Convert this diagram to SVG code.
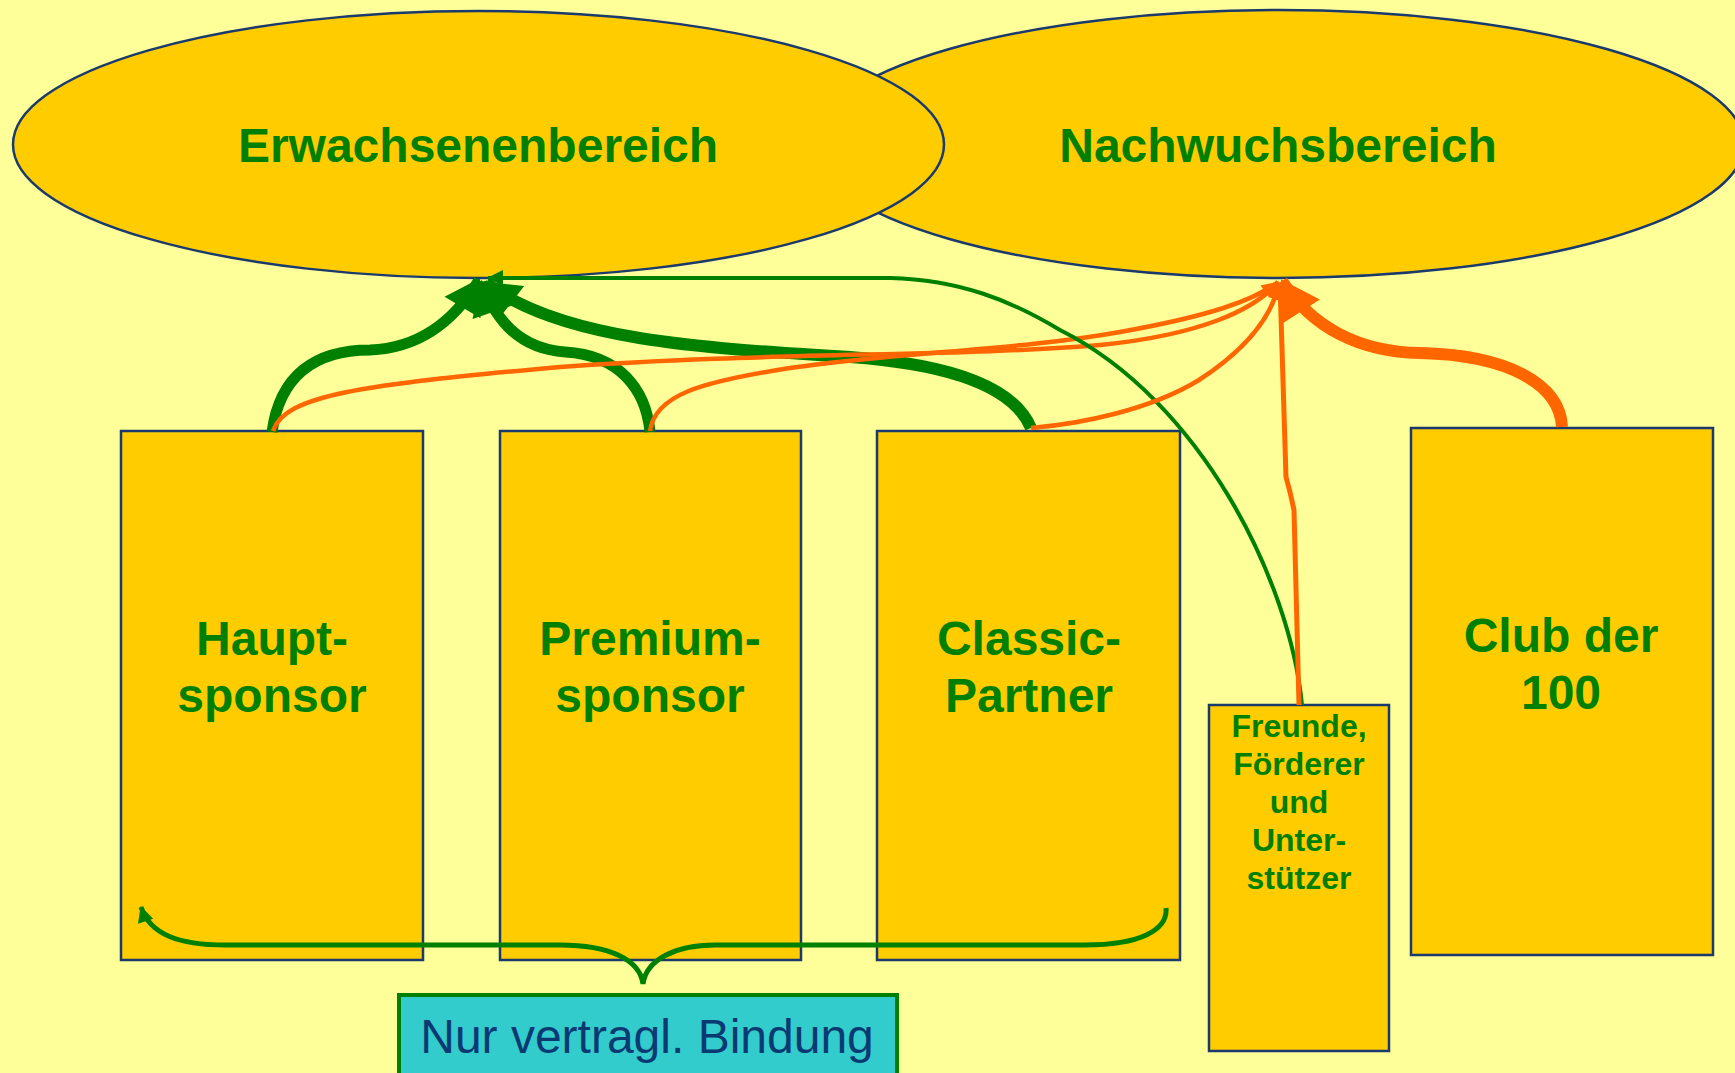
<svg xmlns="http://www.w3.org/2000/svg" width="1735" height="1073" viewBox="0 0 1735 1073">
<defs>
<style>
.bg{fill:#FFFF99}
.shape{fill:#FFCC00;stroke:#1a3a6e;stroke-width:2.5}
.lbl{font-family:"Liberation Sans",Arial,sans-serif;font-weight:bold;fill:#008000;text-anchor:middle}
.big{font-size:48px}
.small{font-size:32px}
.g{fill:none;stroke:#008000;stroke-linecap:butt}
.o{fill:none;stroke:#FF6600;stroke-linecap:butt}
</style>
<marker id="gBig" markerUnits="userSpaceOnUse" viewBox="-36 -24 40 48" refX="0" refY="0" markerWidth="40" markerHeight="48" orient="auto" overflow="visible">
<path d="M2,0 L-32,-21 L-32,21 Z" fill="#008000"/>
</marker>
<marker id="gSmall" markerUnits="userSpaceOnUse" viewBox="-18 -10 20 20" refX="0" refY="0" markerWidth="20" markerHeight="20" orient="auto-start-reverse" overflow="visible">
<path d="M1,0 L-15,-8 L-15,8 Z" fill="#008000"/>
</marker>
<marker id="oBig" markerUnits="userSpaceOnUse" viewBox="-38 -24 40 48" refX="0" refY="0" markerWidth="40" markerHeight="48" orient="auto" overflow="visible">
<path d="M2,0 L-36,-22 L-36,22 Z" fill="#FF6600"/>
</marker>
<marker id="oSmall" markerUnits="userSpaceOnUse" viewBox="-18 -10 20 20" refX="0" refY="0" markerWidth="20" markerHeight="20" orient="auto" overflow="visible">
<path d="M1,0 L-16,-8 L-16,8 Z" fill="#FF6600"/>
</marker>
</defs>
<rect class="bg" x="0" y="0" width="1735" height="1073"/>

<g id="nachwuchsbereich">
<ellipse class="shape" cx="1278" cy="144" rx="466" ry="134"/>
<text class="lbl big" x="1278" y="162">Nachwuchsbereich</text>
</g>
<g id="erwachsenenbereich">
<ellipse class="shape" cx="478.5" cy="144.5" rx="465.5" ry="133.5"/>
<text class="lbl big" x="478" y="162">Erwachsenenbereich</text>
</g>

<g id="hauptsponsor">
<rect class="shape" x="121" y="431" width="302" height="529"/>
<text class="lbl big" x="272" y="655">Haupt-</text>
<text class="lbl big" x="272" y="712">sponsor</text>
</g>
<g id="premiumsponsor">
<rect class="shape" x="500" y="431" width="301" height="529"/>
<text class="lbl big" x="650" y="655">Premium-</text>
<text class="lbl big" x="650" y="712">sponsor</text>
</g>
<g id="classicpartner">
<rect class="shape" x="877" y="431" width="303" height="529"/>
<text class="lbl big" x="1029" y="655">Classic-</text>
<text class="lbl big" x="1029" y="712">Partner</text>
</g>
<g id="freunde">
<rect class="shape" x="1209" y="705" width="180" height="346"/>
<text class="lbl small" x="1299" y="737">Freunde,</text>
<text class="lbl small" x="1299" y="775">Förderer</text>
<text class="lbl small" x="1299" y="813">und</text>
<text class="lbl small" x="1299" y="851">Unter-</text>
<text class="lbl small" x="1299" y="889">stützer</text>
</g>
<g id="clubder100">
<rect class="shape" x="1411" y="428" width="302" height="527"/>
<text class="lbl big" x="1561" y="652">Club der</text>
<text class="lbl big" x="1561" y="709">100</text>
</g>
<g id="nurvertragl">
<rect x="399" y="995" width="498" height="100" fill="#33CCCC" stroke="#008000" stroke-width="4"/>
<text x="647" y="1053" font-family="Liberation Sans, Arial, sans-serif" font-size="48" fill="#0b3a73" text-anchor="middle">Nur vertragl. Bindung</text>
</g>

<g id="connectors">
<path class="g" stroke-width="11" d="M272,432 C 280,375 315,350 370,350 C 420,348 455,320 479,280" marker-end="url(#gBig)"/>
<path class="g" stroke-width="11" d="M650,432 C 646,390 620,355 565,352 C 520,349 495,320 482,282" marker-end="url(#gBig)"/>
<path class="g" stroke-width="12" d="M1031,428 C 1015,390 960,365 850,357 C 700,348 560,340 486,283" marker-end="url(#gBig)"/>
<path class="o" stroke-width="4.5" d="M273,431 C 285,395 360,385 560,367 C 760,352 960,357 1100,345 C 1200,335 1255,310 1278,282" marker-end="url(#oSmall)"/>
<path class="o" stroke-width="4.5" d="M650,431 C 655,395 700,382 790,368 C 900,352 1020,350 1120,332 C 1210,316 1255,300 1278,282" marker-end="url(#oSmall)"/>
<path class="g" stroke-width="4" d="M1302,705 C 1290,580 1200,400 1060,330 C 1010,300 960,280 890,278 L 488,278" marker-end="url(#gSmall)"/>
<path class="o" stroke-width="4.5" d="M1031,428 C 1080,424 1150,410 1199,380 C 1245,350 1272,318 1279,283" marker-end="url(#oSmall)"/>
<path class="o" stroke-width="5" d="M1299,705 L 1294,510 L 1290,492 L 1286,477 L 1280,284" marker-end="url(#oSmall)"/>
<path class="o" stroke-width="12" d="M1562,427 C 1560,385 1510,355 1420,353 C 1360,352 1312,328 1282,281" marker-end="url(#oBig)"/>
<path class="g" stroke-width="5" d="M141,907 C 150,935 180,945 225,945 L 560,945 C 610,945 640,960 643,984 C 646,960 675,945 715,945 L 1085,945 C 1140,945 1168,930 1166,908" marker-start="url(#gSmall)"/>
</g>
</svg>
